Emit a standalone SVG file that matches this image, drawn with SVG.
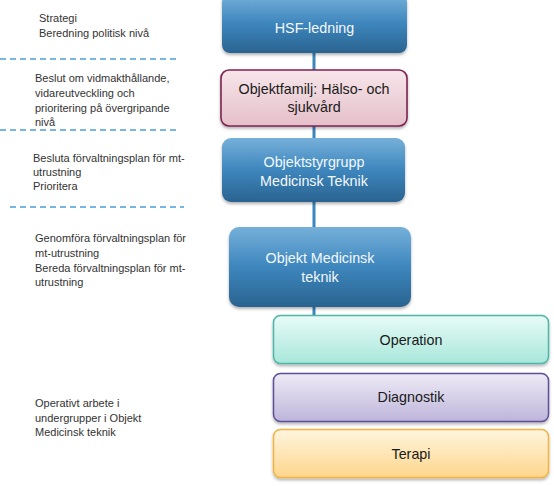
<svg xmlns="http://www.w3.org/2000/svg" width="554" height="486" viewBox="0 0 554 486">
<defs>
<linearGradient id="gBlue" x1="0" y1="0" x2="0" y2="1">
<stop offset="0" stop-color="#76b0da"/><stop offset="0.5" stop-color="#3d86bd"/><stop offset="1" stop-color="#2a6390"/>
</linearGradient>
<linearGradient id="gPink" x1="0" y1="0" x2="0" y2="1">
<stop offset="0" stop-color="#f6e6ea"/><stop offset="1" stop-color="#e5bfc9"/>
</linearGradient>
<linearGradient id="gTeal" x1="0" y1="0" x2="0" y2="1">
<stop offset="0" stop-color="#e8fbf7"/><stop offset="1" stop-color="#a8e7da"/>
</linearGradient>
<linearGradient id="gPurple" x1="0" y1="0" x2="0" y2="1">
<stop offset="0" stop-color="#eeebf6"/><stop offset="1" stop-color="#bdb5da"/>
</linearGradient>
<linearGradient id="gOrange" x1="0" y1="0" x2="0" y2="1">
<stop offset="0" stop-color="#fff5de"/><stop offset="1" stop-color="#fdd68c"/>
</linearGradient>
<filter id="sh" x="-10%" y="-10%" width="120%" height="130%">
<feDropShadow dx="0" dy="2" stdDeviation="1.5" flood-color="#000" flood-opacity="0.3"/>
</filter>
</defs>
<style>
.lt{font-family:"Liberation Sans",Arial,sans-serif;font-size:11px;fill:#333}
.bt{font-family:"Liberation Sans",Arial,sans-serif;font-size:14.3px;text-anchor:middle}
.w{fill:#f4f8fb}
.d{fill:#1a1a1a}
.blue{fill:url(#gBlue);filter:url(#sh)}
.dash{stroke:#4a9fd8;stroke-width:1.3;stroke-dasharray:6,4;fill:none}
.conn{stroke:#3a86bd;stroke-width:3;fill:none}
</style>
<g id="connectors">
<line class="conn" x1="314" y1="50" x2="314" y2="318"/>
</g>
<g id="dividers">
<line class="dash" x1="0" y1="59" x2="177" y2="59"/>
<line class="dash" x1="0" y1="130" x2="179" y2="130"/>
<line class="dash" x1="10" y1="207" x2="184" y2="207"/>
</g>
<g id="labels">
<text class="lt" x="39" y="21.5">Strategi</text>
<text class="lt" x="39" y="37">Beredning politisk nivå</text>
<text class="lt" x="35" y="81.5">Beslut om vidmakthållande,</text>
<text class="lt" x="35" y="96.5">vidareutveckling och</text>
<text class="lt" x="35" y="111.5">prioritering på övergripande</text>
<text class="lt" x="35" y="126">nivå</text>
<text class="lt" x="33" y="161.5">Besluta förvaltningsplan för mt-</text>
<text class="lt" x="33" y="176">utrustning</text>
<text class="lt" x="33" y="190">Prioritera</text>
<text class="lt" x="35" y="242">Genomföra förvaltningsplan för</text>
<text class="lt" x="35" y="257">mt-utrustning</text>
<text class="lt" x="35" y="271.5">Bereda förvaltningsplan för mt-</text>
<text class="lt" x="35" y="286">utrustning</text>
<text class="lt" x="35" y="407">Operativt arbete i</text>
<text class="lt" x="35" y="421.5">undergrupper  i Objekt</text>
<text class="lt" x="35" y="436">Medicinsk teknik</text>
</g>
<g id="hsf">
<rect class="blue" x="222" y="-6" width="185" height="59" rx="8"/>
<text class="bt w" x="314.5" y="32.5">HSF-ledning</text>
</g>
<g id="objektfamilj">
<rect x="221" y="70" width="186" height="56" rx="8" fill="url(#gPink)" stroke="#7d2350" stroke-width="1.6" filter="url(#sh)"/>
<text class="bt d" x="314" y="93.5">Objektfamilj: Hälso- och</text>
<text class="bt d" x="314" y="112">sjukvård</text>
</g>
<g id="objektstyrgrupp">
<rect class="blue" x="222" y="138" width="183" height="64" rx="9"/>
<text class="bt w" x="314" y="166.5">Objektstyrgrupp</text>
<text class="bt w" x="314" y="185.5">Medicinsk Teknik</text>
</g>
<g id="objekt-mt">
<rect class="blue" x="229" y="227" width="182" height="80" rx="10"/>
<text class="bt w" x="320" y="262.5">Objekt Medicinsk</text>
<text class="bt w" x="320" y="281.5">teknik</text>
</g>
<g id="operation">
<rect x="273.5" y="315.5" width="275" height="48" rx="7" fill="url(#gTeal)" stroke="#4fb5a6" stroke-width="1.5" filter="url(#sh)"/>
<text class="bt d" x="411" y="344.5">Operation</text>
</g>
<g id="diagnostik">
<rect x="273.5" y="373.5" width="275" height="48" rx="7" fill="url(#gPurple)" stroke="#5f4f98" stroke-width="1.5" filter="url(#sh)"/>
<text class="bt d" x="411" y="401.5">Diagnostik</text>
</g>
<g id="terapi">
<rect x="273.5" y="429.5" width="275" height="48" rx="7" fill="url(#gOrange)" stroke="#f3b343" stroke-width="1.5" filter="url(#sh)"/>
<text class="bt d" x="411" y="458.5">Terapi</text>
</g>
</svg>
